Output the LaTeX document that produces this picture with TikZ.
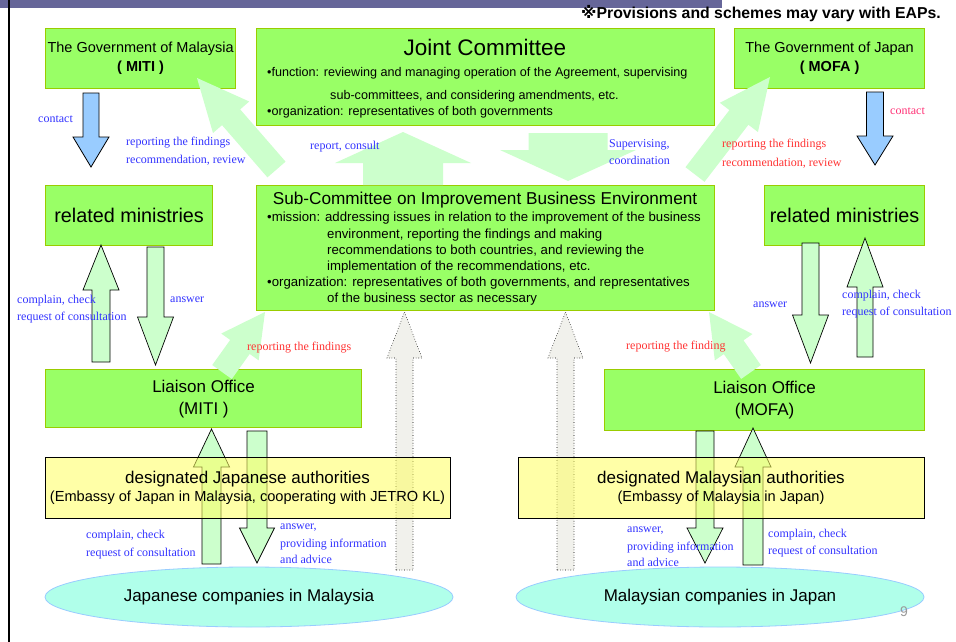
\documentclass[tikz,border=0pt]{standalone}
\usepackage{fontspec}
\setmainfont{Liberation Sans}
\newfontfamily\tms{Liberation Serif}
\newfontfamily\djv{DejaVu Sans}
\usetikzlibrary{calc,shapes.geometric}
\definecolor{boxgreen}{HTML}{99FF66}
\definecolor{boxedge}{HTML}{99CC00}
\definecolor{lgreen}{HTML}{CCFFCC}
\definecolor{lblue}{HTML}{99CCFF}
\definecolor{yel}{HTML}{FFFF60}
\definecolor{mint}{HTML}{B0FFEA}
\definecolor{labblue}{HTML}{3333FF}
\definecolor{labred}{HTML}{FF3333}
\definecolor{labpink}{HTML}{FF3377}
\definecolor{barcol}{HTML}{666699}
\definecolor{dotfill}{HTML}{F1F1EC}
\definecolor{pgnum}{HTML}{999999}
\newcommand\blockarr[6]{%
  \coordinate (hb) at ($(#3)!#6!(#2)$);
  \path[#1] ($(#2)!#4!90:(#3)$) -- ($(hb)!#4!90:(#3)$) -- ($(hb)!#5!90:(#3)$) -- (#3)
    -- ($(hb)!#5!-90:(#3)$) -- ($(hb)!#4!-90:(#3)$) -- ($(#2)!#4!-90:(#3)$) -- cycle;}
\tikzset{
  gbox/.style={draw=boxedge, line width=1.2pt, fill=boxgreen, inner sep=0pt, anchor=north west},
  ybox/.style={draw=black, line width=0.8pt, fill=yel, fill opacity=0.55, inner sep=0pt, anchor=north west},
  bigarr/.style={fill=lgreen},
  smallarr/.style={fill=lgreen, draw=black, line width=0.7pt},
  bluearr/.style={fill=lblue, draw=black, line width=0.8pt},
  dotarr/.style={fill=dotfill, draw=black, dotted, line width=0.6pt},
  lab/.style={font=\tms\fontsize{12}{13}\selectfont, text=labblue, anchor=west, inner sep=0pt},
  redlab/.style={lab, text=labred},
  line/.style={font=\fontsize{13.2}{15}\selectfont, anchor=west, inner sep=0pt},
  jline/.style={font=\fontsize{12.6}{15}\selectfont, anchor=west, inner sep=0pt},
  eli/.style={ellipse, draw=lblue, line width=0.8pt, fill=mint, inner sep=0pt, font=\fontsize{17}{19}\selectfont}
}
\begin{document}
\begin{tikzpicture}[x=1pt,y=-1pt]
\useasboundingbox (0,0) rectangle (956,642);
\fill[white] (0,0) rectangle (956,642);
% top bar and left rule
\fill[barcol] (0,0) rectangle (722,8);
\fill[black] (7.5,0) rectangle (10,642);

% green boxes
\node[gbox, minimum width=190pt, minimum height=60pt, align=center, font=\fontsize{14.5}{19}\selectfont] (govm) at (45,28) {The Government of Malaysia\\\textbf{( MITI )}};
\node[gbox, minimum width=458pt, minimum height=97pt] (jc) at (256,28) {};
\node[gbox, minimum width=190pt, minimum height=60pt, align=center, font=\fontsize{14.5}{19}\selectfont] (govj) at (734,28) {The Government of Japan\\\textbf{( MOFA )}};
\node[gbox, minimum width=167pt, minimum height=60pt, font=\fontsize{19.8}{22}\selectfont] (rml) at (45,185) {related ministries};
\node[gbox, minimum width=458pt, minimum height=125pt] (sc) at (256,185) {};
\node[gbox, minimum width=160pt, minimum height=60pt, font=\fontsize{19.8}{22}\selectfont] (rmr) at (764,185) {related ministries};
\node[gbox, minimum width=316pt, minimum height=58pt, align=center, font=\fontsize{17}{22}\selectfont] (lom) at (45,369) {Liaison Office\\(MITI )};
\node[gbox, minimum width=320pt, minimum height=61pt, align=center, font=\fontsize{17}{22}\selectfont] (loj) at (604,369) {Liaison Office\\(MOFA)};

% big light green arrows
\coordinate (d1t) at (276.5,169.5); \coordinate (d1h) at (197,78);
\blockarr{bigarr}{d1t}{d1h}{12pt}{24pt}{52pt}
\coordinate (d2t) at (695,174.5); \coordinate (d2h) at (770,77);
\blockarr{bigarr}{d2t}{d2h}{12pt}{24pt}{51pt}
\coordinate (d3t) at (222,372); \coordinate (d3h) at (265,312);
\blockarr{bigarr}{d3t}{d3h}{12pt}{23pt}{43pt}
\coordinate (d4t) at (751,372); \coordinate (d4h) at (709,312);
\blockarr{bigarr}{d4t}{d4h}{12pt}{23pt}{43pt}
\coordinate (rct) at (403,185); \coordinate (rch) at (403,132);
\blockarr{bigarr}{rct}{rch}{40pt}{68pt}{31pt}
\coordinate (svt) at (568,133); \coordinate (svh) at (568,181);
\blockarr{bigarr}{svt}{svh}{39.5pt}{68pt}{31pt}

% blue contact arrows
\coordinate (b1t) at (91,93); \coordinate (b1h) at (91,167);
\blockarr{bluearr}{b1t}{b1h}{8pt}{18pt}{30pt}
\coordinate (b2t) at (875,92); \coordinate (b2h) at (875,165);
\blockarr{bluearr}{b2t}{b2h}{8.5pt}{18pt}{29pt}

% small bordered arrows
\coordinate (s1t) at (101,362); \coordinate (s1h) at (101,245);
\blockarr{smallarr}{s1t}{s1h}{9pt}{18pt}{45pt}
\coordinate (s2t) at (155.5,247); \coordinate (s2h) at (155.5,365);
\blockarr{smallarr}{s2t}{s2h}{8.5pt}{18pt}{48pt}
\coordinate (s3t) at (810.5,243); \coordinate (s3h) at (810.5,363);
\blockarr{smallarr}{s3t}{s3h}{8.5pt}{18pt}{48pt}
\coordinate (s4t) at (865,357); \coordinate (s4h) at (865,238);
\blockarr{smallarr}{s4t}{s4h}{8pt}{18pt}{49pt}
\coordinate (s5t) at (211.5,564); \coordinate (s5h) at (211.5,429);
\blockarr{smallarr}{s5t}{s5h}{9.5pt}{18pt}{38pt}
\coordinate (s6t) at (257,431); \coordinate (s6h) at (257,563);
\blockarr{smallarr}{s6t}{s6h}{10pt}{17.5pt}{35pt}
\coordinate (s7t) at (705,431); \coordinate (s7h) at (705,563);
\blockarr{smallarr}{s7t}{s7h}{9pt}{18pt}{35pt}
\coordinate (s8t) at (753,565); \coordinate (s8h) at (753,428);
\blockarr{smallarr}{s8t}{s8h}{10pt}{18pt}{39pt}

% dotted arrows
\coordinate (p1t) at (404.5,570); \coordinate (p1h) at (404.5,312);
\blockarr{dotarr}{p1t}{p1h}{8.5pt}{17.5pt}{46pt}
\coordinate (p2t) at (565.5,570); \coordinate (p2h) at (565.5,312);
\blockarr{dotarr}{p2t}{p2h}{8.5pt}{17.5pt}{46pt}

% yellow boxes
\node[ybox, minimum width=405pt, minimum height=61pt] (yja) at (45,457) {};
\node[ybox, minimum width=406pt, minimum height=61pt] (yma) at (518,457) {};

% ellipses
\node[eli, minimum width=408pt, minimum height=60pt] (jcm) at (249,597) {Japanese companies in Malaysia};
\node[eli, minimum width=408pt, minimum height=60pt] (mcj) at (720,597) {Malaysian companies in Japan};

% committee texts
\node[font=\fontsize{22.5}{26}\selectfont, inner sep=0pt] (jct) at (485,47) {Joint Committee};
\node[jline] (jc1) at (267,73) {•function: reviewing and managing operation of the Agreement, supervising};
\node[jline] (jc2) at (330,96) {sub-committees, and considering amendments, etc.};
\node[jline] (jc3) at (267,112) {•organization: representatives of both governments};

\node[font=\fontsize{17.2}{20}\selectfont, inner sep=0pt] (sct) at (485,200) {Sub-Committee on Improvement Business Environment};
\node[line] (sc1) at (267,218) {•mission: addressing issues in relation to the improvement of the business};
\node[line] (sc2) at (327,235) {environment, reporting the findings and making};
\node[line] (sc3) at (327,251) {recommendations to both countries, and reviewing the};
\node[line] (sc4) at (327,267) {implementation of the recommendations, etc.};
\node[line] (sc5) at (267,283) {•organization: representatives of both governments, and representatives};
\node[line] (sc6) at (327,299) {of the business sector as necessary};

% yellow box texts
\node[font=\fontsize{17}{19}\selectfont, inner sep=0pt] (yja1) at (247.5,479) {designated Japanese authorities};
\node[font=\fontsize{14.6}{16}\selectfont, inner sep=0pt] (yja2) at (247.5,498) {(Embassy of Japan in Malaysia, cooperating with JETRO KL)};
\node[font=\fontsize{17}{19}\selectfont, inner sep=0pt] (yma1) at (721,479) {designated Malaysian authorities};
\node[font=\fontsize{14.6}{16}\selectfont, inner sep=0pt] (yma2) at (721,498) {(Embassy of Malaysia in Japan)};

% note and page number
\node[anchor=east, inner sep=0pt, font=\fontsize{15.8}{17}\selectfont\bfseries] (note) at (941,14) {{\djv ※}Provisions and schemes may vary with EAPs.};
\node[inner sep=0pt, text=pgnum, font=\fontsize{14}{16}\selectfont] (pg) at (904,612) {9};

% labels
\node[lab] (l1) at (38,119) {contact};
\node[lab] (l2) at (126,143) {reporting the findings};
\node[lab] (l3) at (126,160) {recommendation, review};
\node[lab] (l4) at (310,147) {report, consult};
\node[lab] (l5) at (609,145) {Supervising,};
\node[lab] (l6) at (609,160) {coordination};
\node[redlab] (l7) at (722,145) {reporting the findings};
\node[redlab] (l8) at (722,163) {recommendation, review};
\node[lab, text=labpink] (l9) at (890,111) {contact};
\node[lab] (l10) at (17,301) {complain, check};
\node[lab] (l11) at (17,318) {request of consultation};
\node[lab] (l12) at (170,300) {answer};
\node[redlab] (l13) at (247,348) {reporting the findings};
\node[redlab] (l14) at (626,347) {reporting the finding};
\node[lab] (l15) at (753,305) {answer};
\node[lab] (l16) at (842,296) {complain, check};
\node[lab] (l17) at (842,313) {request of consultation};
\node[lab] (l18) at (86,536) {complain, check};
\node[lab] (l19) at (86,554) {request of consultation};
\node[lab] (l20) at (280,528) {answer,};
\node[lab] (l21) at (280,545) {providing information};
\node[lab] (l22) at (280,559) {and advice};
\node[lab] (l23) at (627,531) {answer,};
\node[lab] (l24) at (627,548) {providing information};
\node[lab] (l25) at (627,562) {and advice};
\node[lab] (l26) at (768,535) {complain, check};
\node[lab] (l27) at (768,552) {request of consultation};
\end{tikzpicture}
\end{document}
